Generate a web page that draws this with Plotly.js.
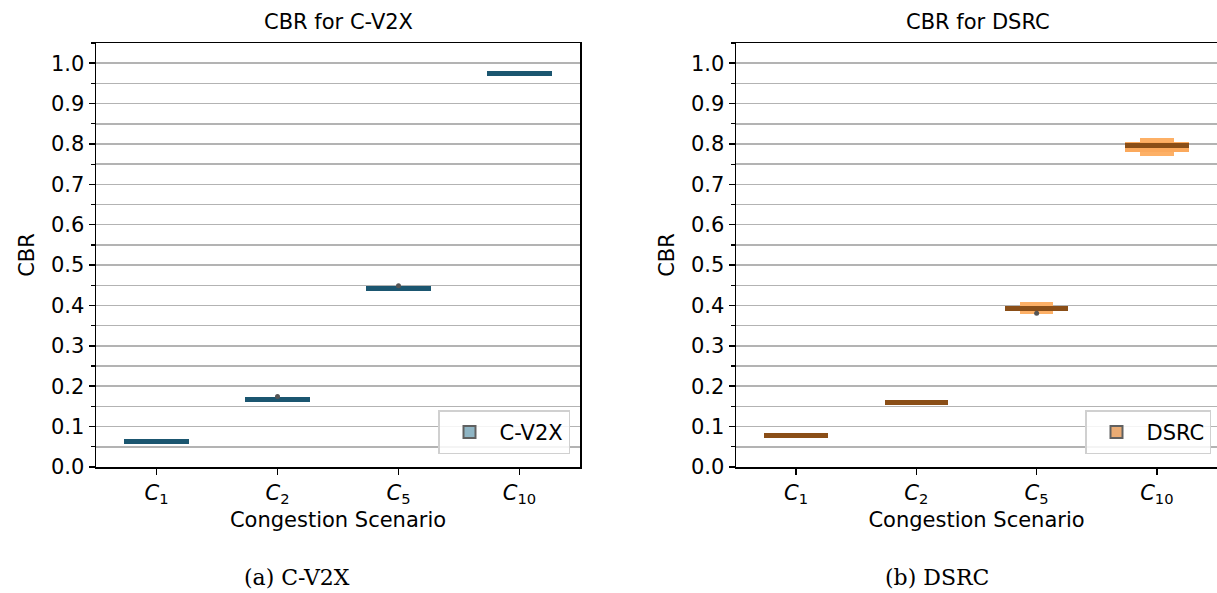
<!DOCTYPE html>
<html>
<head>
<meta charset="utf-8">
<script src="https://cdn.plot.ly/plotly-3.0.1.min.js"></script>
<style>html,body{margin:0;padding:0;background:#fff;}#chart{width:1217px;height:593px;}</style>
</head>
<body>
<div id="chart"></div>
<script>
// Data
const categories = ['<i>C</i><sub>1</sub>', '<i>C</i><sub>2</sub>', '<i>C</i><sub>5</sub>', '<i>C</i><sub>10</sub>'];
const yTicks = [0.0, 0.1, 0.2, 0.3, 0.4, 0.5, 0.6, 0.7, 0.8, 0.9, 1.0];

// C-V2X letter-value statistics
const cv2xMedian = [0.0636, 0.1665, 0.443, 0.975];
const cv2xQ1 = [0.0622, 0.1645, 0.4405, 0.9725];
const cv2xQ3 = [0.0650, 0.1685, 0.4455, 0.9775];
const cv2xE1 = [0.0605, 0.1625, 0.4385, 0.9710];
const cv2xE2 = [0.0660, 0.1700, 0.4480, 0.9800];
const cv2xOutX = [categories[1], categories[2]];
const cv2xOutY = [0.1745, 0.4490];

// DSRC letter-value statistics
const dsrcMedian = [0.0790, 0.1590, 0.3930, 0.7960];
const dsrcQ1 = [0.0775, 0.1560, 0.3860, 0.7800];
const dsrcQ3 = [0.0805, 0.1620, 0.3990, 0.8040];
const dsrcE1 = [0.0760, 0.1530, 0.3780, 0.7700];
const dsrcE2 = [0.0815, 0.1640, 0.4080, 0.8140];
const dsrcOutX = [categories[2]];
const dsrcOutY = [0.3810];

const FONT = 'DejaVu Sans, sans-serif';
const FS = 21;
const MED_H = 0.012;
const WIDE = 0.53, NARROW = 0.28;

function diff(a, b) { return a.map((v, i) => v - b[i]); }
function boxen(xa, ya, leg, name, med, q1, q3, e1, e2, outX, outY, cNarrow, cWide, cMed, cLeg) {
  const n = categories.length;
  return [
    {type: 'bar', x: categories, base: e1, y: diff(e2, e1), width: Array(n).fill(NARROW),
     marker: {color: cNarrow, line: {width: 0}}, xaxis: xa, yaxis: ya, showlegend: false, hoverinfo: 'skip'},
    {type: 'bar', x: categories, base: q1, y: diff(q3, q1), width: Array(n).fill(WIDE),
     marker: {color: cWide, line: {width: 0}}, xaxis: xa, yaxis: ya, showlegend: false, hoverinfo: 'skip'},
    {type: 'bar', x: categories, base: med.map(v => v - MED_H / 2), y: Array(n).fill(MED_H), width: Array(n).fill(WIDE),
     marker: {color: cMed, line: {width: 0}}, xaxis: xa, yaxis: ya, showlegend: false, hoverinfo: 'skip'},
    {type: 'scatter', mode: 'markers', x: outX, y: outY, marker: {color: '#555555', size: 5},
     xaxis: xa, yaxis: ya, showlegend: false, hoverinfo: 'skip'},
    {type: 'bar', x: [null], y: [null], name: name, legend: leg,
     marker: {color: cLeg, line: {color: '#606060', width: 2}}, xaxis: xa, yaxis: ya, showlegend: true}
  ];
}

const traces = [].concat(
  boxen('x', 'y', 'legend', 'C-V2X', cv2xMedian, cv2xQ1, cv2xQ3, cv2xE1, cv2xE2, cv2xOutX, cv2xOutY,
        '#7fb0c4', '#4a86a0', '#1b5670', '#8fb5c4'),
  boxen('x2', 'y2', 'legend2', 'DSRC', dsrcMedian, dsrcQ1, dsrcQ3, dsrcE1, dsrcE2, dsrcOutX, dsrcOutY,
        '#fdb066', '#fba95c', '#8a4e17', '#e9ab74')
);

function yax(anchor) {
  return {
    anchor: anchor, range: [0, 1.05], tickvals: yTicks, ticktext: yTicks.map(v => v.toFixed(1)),
    ticks: 'outside', ticklen: 6, tickwidth: 1.5, tickcolor: '#000',
    showgrid: true, gridcolor: '#b3b3b3', gridwidth: 1.5,
    minor: {dtick: 0.05, tick0: 0, showgrid: true, gridcolor: '#b3b3b3', gridwidth: 1.5, ticks: 'outside', ticklen: 3.5, tickwidth: 1.2, tickcolor: '#000'},
    showline: true, linecolor: '#000', linewidth: 1.5, mirror: true, zeroline: false,
    tickfont: {family: FONT, size: FS, color: '#000'},
    title: {text: 'CBR', font: {family: FONT, size: FS, color: '#000'}, standoff: 10}
  };
}
function xax(anchor, dom) {
  return {
    anchor: anchor, domain: dom, type: 'category', range: [-0.5, 3.5],
    ticks: 'outside', ticklen: 6, tickwidth: 1.5, tickcolor: '#000',
    showgrid: false, showline: true, linecolor: '#000', linewidth: 1.5, mirror: true, zeroline: false,
    tickfont: {family: FONT, size: FS, color: '#000'},
    title: {text: 'Congestion Scenario', font: {family: FONT, size: FS, color: '#000'}, standoff: 6}
  };
}

const legendBase = {
  xanchor: 'right', yanchor: 'bottom', bgcolor: 'rgba(255,255,255,0.85)',
  bordercolor: '#d0d0d0', borderwidth: 1.5, font: {family: FONT, size: FS, color: '#000'},
  itemwidth: 50, tracegroupgap: 0
};

const W = 1121; // plotting width from x=96 to 1217
const layout = {
  width: 1217, height: 593,
  margin: {l: 96, r: 0, t: 43, b: 126},
  paper_bgcolor: '#fff', plot_bgcolor: '#fff',
  barmode: 'overlay', bargap: 0,
  xaxis: xax('y', [0, (580 - 96) / W]),
  yaxis: yax('x'),
  xaxis2: xax('y2', [(736 - 96) / W, 1]),
  yaxis2: yax('x2'),
  legend: Object.assign({}, legendBase, {x: (570 - 96) / W, y: 0.03}),
  legend2: Object.assign({}, legendBase, {x: (1211 - 96) / W, y: 0.03}),
  annotations: [
    {text: 'CBR for C-V2X', xref: 'paper', yref: 'paper', x: (338 - 96) / W, y: (467 - 22) / 424, xanchor: 'center', yanchor: 'middle', showarrow: false, font: {family: FONT, size: FS, color: '#000'}},
    {text: 'CBR for DSRC', xref: 'paper', yref: 'paper', x: (978 - 96) / W, y: (467 - 22) / 424, xanchor: 'center', yanchor: 'middle', showarrow: false, font: {family: FONT, size: FS, color: '#000'}},
    {text: '(a) C-V2X', xref: 'paper', yref: 'paper', x: (297 - 96) / W, y: (467 - 577) / 424, xanchor: 'center', yanchor: 'middle', showarrow: false, font: {family: 'DejaVu Serif, serif', size: 22, color: '#000'}},
    {text: '(b) DSRC', xref: 'paper', yref: 'paper', x: (937 - 96) / W, y: (467 - 577) / 424, xanchor: 'center', yanchor: 'middle', showarrow: false, font: {family: 'DejaVu Serif, serif', size: 22, color: '#000'}}
  ]
};

Plotly.newPlot('chart', traces, layout, {staticPlot: true, displayModeBar: false});
</script>
</body>
</html>
